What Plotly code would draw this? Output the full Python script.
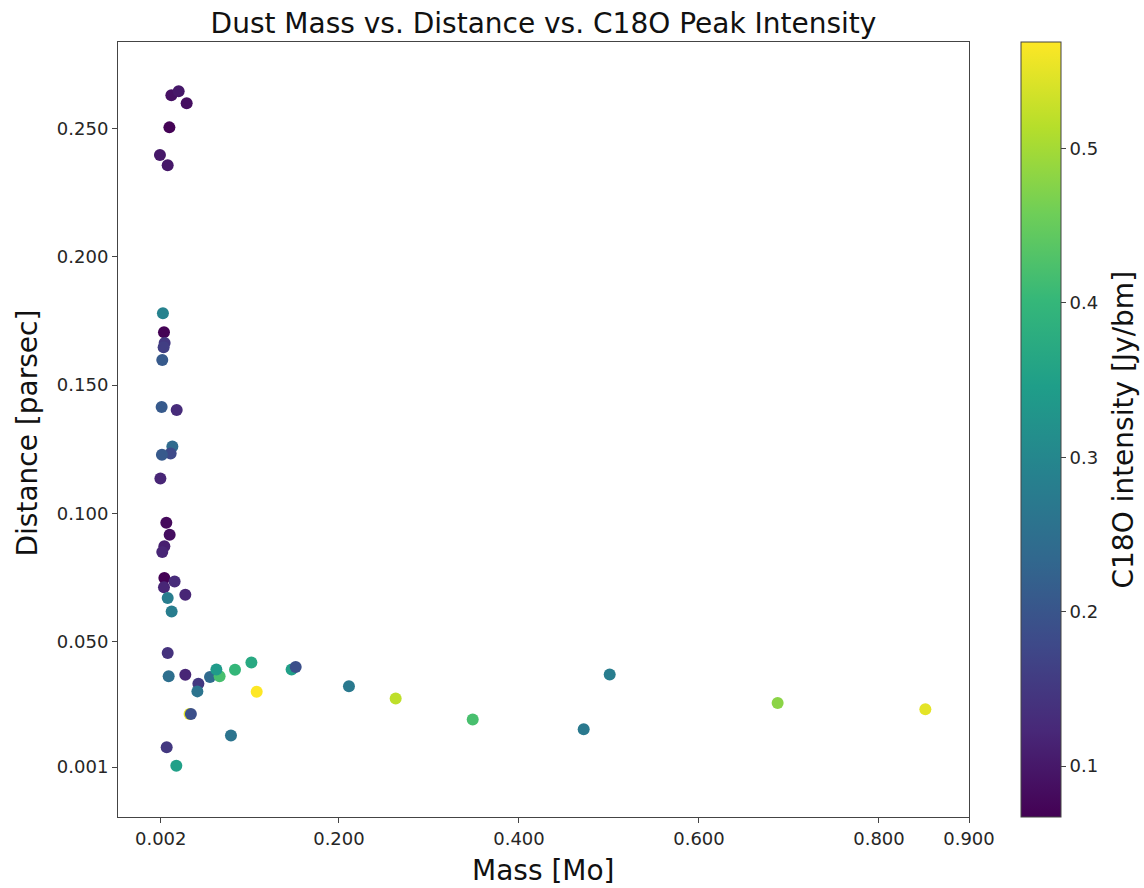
import plotly.graph_objects as go

# Data
mass = [0.0138, 0.0219, 0.0308, 0.0116, 0.0011, 0.0097, 0.0044, 0.0056, 0.0063, 0.0052,
        0.0037, 0.0030, 0.0197, 0.0149, 0.0130, 0.0033, 0.0016, 0.0082, 0.0119, 0.0060,
        0.0037, 0.0060, 0.0174, 0.0056, 0.0293, 0.0097, 0.0141, 0.0097, 0.0108, 0.0293,
        0.0438, 0.0427, 0.0567, 0.0674, 0.0638, 0.0845, 0.1027, 0.1086, 0.1474, 0.1519,
        0.2111, 0.0340, 0.0355, 0.0800, 0.0086, 0.0193, 0.2630, 0.3486, 0.4719, 0.5008,
        0.6874, 0.8515]
distance = [0.2630, 0.2646, 0.2599, 0.2505, 0.2397, 0.2357, 0.1780, 0.1706, 0.1664, 0.1647,
            0.1598, 0.1414, 0.1403, 0.1260, 0.1233, 0.1228, 0.1135, 0.0963, 0.0916, 0.0871,
            0.0849, 0.0747, 0.0734, 0.0711, 0.0682, 0.0669, 0.0617, 0.0455, 0.0364, 0.0370,
            0.0335, 0.0305, 0.0361, 0.0364, 0.0390, 0.0389, 0.0418, 0.0304, 0.0390, 0.0400,
            0.0325, 0.0217, 0.0217, 0.0133, 0.0087, 0.0015, 0.0277, 0.0195, 0.0157, 0.0371,
            0.0260, 0.0235]
intensity = [0.090, 0.100, 0.085, 0.070, 0.100, 0.100, 0.290, 0.068, 0.150, 0.160,
             0.210, 0.210, 0.130, 0.240, 0.180, 0.210, 0.120, 0.080, 0.085, 0.110,
             0.120, 0.068, 0.130, 0.120, 0.120, 0.280, 0.280, 0.140, 0.250, 0.120,
             0.150, 0.260, 0.240, 0.420, 0.340, 0.400, 0.370, 0.569, 0.350, 0.190,
             0.270, 0.550, 0.190, 0.260, 0.150, 0.350, 0.520, 0.420, 0.270, 0.280,
             0.480, 0.550]

x_tickvals = [0.002, 0.2, 0.4, 0.6, 0.8, 0.9]
x_ticktext = ["0.002", "0.200", "0.400", "0.600", "0.800", "0.900"]
y_tickvals = [0.001, 0.05, 0.10, 0.15, 0.20, 0.25]
y_ticktext = ["0.001", "0.050", "0.100", "0.150", "0.200", "0.250"]
cb_tickvals = [0.1, 0.2, 0.3, 0.4, 0.5]

FONT = "DejaVu Sans"
AX = "#444444"
TXT = "#262626"

fig = go.Figure()
fig.add_trace(go.Scatter(
    x=mass, y=distance, mode="markers",
    marker=dict(
        size=12, color=intensity, colorscale="Viridis", cmin=0.067, cmax=0.569,
        line=dict(width=0), opacity=1,
        showscale=True,
        colorbar=dict(
            x=1.0608, xanchor="left", y=0.5, yanchor="middle",
            len=1, lenmode="fraction", thickness=40, thicknessmode="pixels",
            xpad=0, ypad=0, outlinewidth=1, outlinecolor=AX,
            ticks="outside", ticklen=5, tickcolor=AX, tickwidth=1,
            tickvals=cb_tickvals, ticktext=["0.1", "0.2", "0.3", "0.4", "0.5"],
            tickfont=dict(family=FONT, size=18, color=TXT),
        ),
    ),
    showlegend=False, hoverinfo="x+y",
))

fig.update_layout(
    width=1144, height=888,
    margin=dict(l=118.3, r=174.7, t=42.3, b=70.7),
    paper_bgcolor="white", plot_bgcolor="white",
    font=dict(family=FONT, color=TXT),
    title=dict(text="Dust Mass vs. Distance vs. C18O Peak Intensity",
               x=0.5, xref="paper", xanchor="center",
               y=1 - 23 / 888, yref="container", yanchor="middle",
               font=dict(family=FONT, size=28, color="#111111")),
    xaxis=dict(range=[-0.0455, 0.9], tickvals=x_tickvals, ticktext=x_ticktext,
               showgrid=False, zeroline=False, showline=True, linecolor=AX, linewidth=1,
               mirror=True, ticks="outside", ticklen=5, tickcolor=AX,
               tickfont=dict(family=FONT, size=18, color=TXT)),
    yaxis=dict(range=[-0.0185, 0.2838], tickvals=y_tickvals, ticktext=y_ticktext,
               showgrid=False, zeroline=False, showline=True, linecolor=AX, linewidth=1,
               mirror=True, ticks="outside", ticklen=5, tickcolor=AX,
               tickfont=dict(family=FONT, size=18, color=TXT)),
    annotations=[
        dict(text="Mass [Mo]", xref="paper", yref="paper", x=0.5, y=0,
             xanchor="center", yanchor="middle", yshift=-53, showarrow=False,
             font=dict(family=FONT, size=28, color="#111111")),
        dict(text="Distance [parsec]", xref="paper", yref="paper", x=0, y=0.5,
             xanchor="center", yanchor="middle", xshift=-91, yshift=-4,
             textangle=-90, showarrow=False,
             font=dict(family=FONT, size=28, color="#111111")),
        dict(text="C18O intensity [Jy/bm]", xref="paper", yref="paper", x=1, y=0.5,
             xanchor="center", yanchor="middle", xshift=154, yshift=0,
             textangle=-90, showarrow=False,
             font=dict(family=FONT, size=28, color="#111111")),
    ],
)

fig.write_html("out.html")
